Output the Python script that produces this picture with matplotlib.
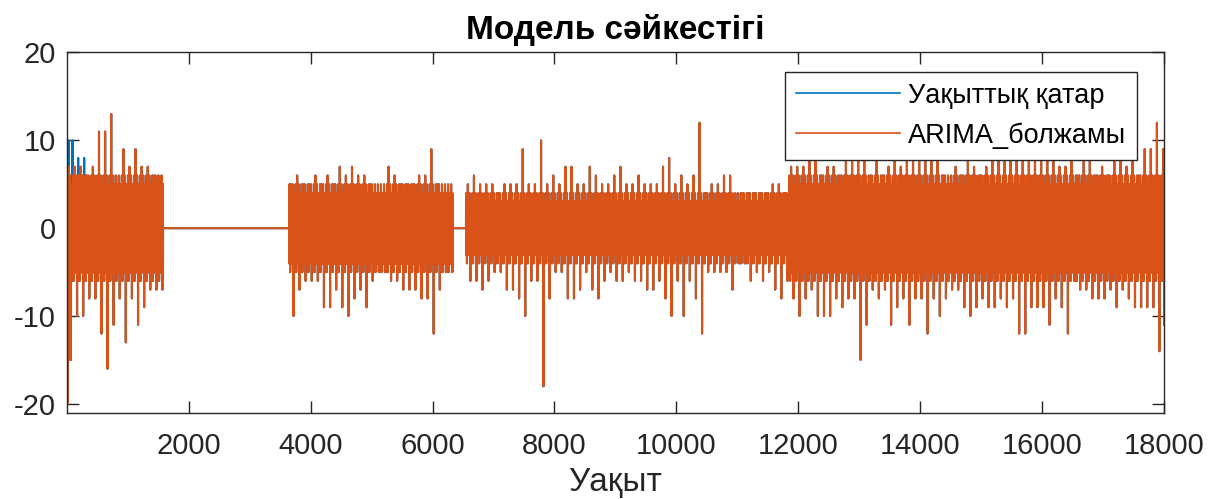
import numpy as np
import matplotlib
matplotlib.use("Agg")
import matplotlib.pyplot as plt

plt.rcParams['font.family'] = ['Liberation Sans', 'DejaVu Sans']
plt.rcParams['axes.unicode_minus'] = False

# segments of the record: start, end, solid band level, level most samples reach
seg_start = [1, 3650, 6550, 11850]
seg_end = [1580, 6325, 11850, 18000]
seg_core = [5, 4, 3, 5]
seg_edge = [6, 5, 4, 6]

# per 100-sample bin: largest and smallest value in each segment
seg1_hi = [7, 7, 7, 6, 7, 11, 11, 13, 5, 9, 7, 9, 7, 7, 6, 4]
seg1_lo = [-15, -10, -10, -8, -8, -12, -16, -11, -8, -13, -8, -11, -9, -7, -7, -7]

seg2_hi = [5, 6, 5, 5, 6, 5, 6, 5, 7, 6, 7, 6, 6, 5, 4, 4, 7, 6, 5, 5, 5, 6, 6, 9, 5, 4, 4]
seg2_lo = [-10, -7, -6, -6, -6, -9, -9, -7, -9, -10, -8, -7, -9, -6, -5, -5, -6, -6, -7, -7,
           -7, -8, -8, -12, -7, -5, -5]

seg3_hi = [5, 6, 5, 5, 5, 4, 5, 5, 5, 9, 5, 5, 10, 5, 6, 5, 7, 7, 5, 5,
           7, 6, 5, 5, 6, 7, 5, 5, 6, 5, 5, 5, 7, 8, 5, 6, 5, 6, 12, 4,
           5, 5, 6, 6, 3, 4, 4, 4, 4, 4, 5, 5, 4]
seg3_lo = [-6, -6, -7, -6, -5, -5, -7, -7, -8, -10, -6, -6, -18, -8, -5, -5, -8, -8, -7, -5,
           -7, -8, -6, -5, -6, -6, -5, -6, -6, -7, -7, -6, -8, -10, -6, -10, -6, -8, -12, -5,
           -5, -5, -5, -7, -4, -4, -6, -5, -6, -5, -7, -8, -6]

seg4_hi = [7, 7, 7, 8, 8, 6, 7, 7, 6, 9, 9, 9, 9, 6, 9, 6, 7, 8, 7, 8,
           8, 9, 9, 8, 10, 6, 5, 7, 6, 9, 7, 6, 7, 9, 8, 9, 9, 9, 9, 9,
           9, 9, 9, 9, 7, 7, 8, 6, 8, 8, 6, 7, 6, 8, 9, 7, 8, 6, 9, 9,
           12, 9]
seg4_lo = [-8, -10, -8, -7, -10, -10, -10, -8, -9, -8, -8, -15, -11, -7, -8, -7, -11, -9, -8, -11,
           -8, -8, -12, -8, -10, -8, -7, -7, -9, -10, -9, -8, -9, -9, -8, -9, -8, -12, -12, -9,
           -9, -9, -11, -8, -9, -12, -6, -7, -7, -8, -8, -8, -7, -9, -7, -8, -9, -9, -9, -9,
           -14, -11]

# first samples, before the model settles: index, observed, fitted
head_idx = [1, 2, 20, 37, 48, 97, 190, 288]
head_ts = [6, -4, -3, 10, 2, 10, 8, 8]
head_arima = [3, -21, -20, 4, -15, 5, 6, 6]

seg_hi = [seg1_hi, seg2_hi, seg3_hi, seg4_hi]
seg_lo = [seg1_lo, seg2_lo, seg3_lo, seg4_lo]

t = np.arange(1, 18001)
ts = np.zeros(len(t))
for s0, s1, c, e, hi, lo in zip(seg_start, seg_end, seg_core, seg_edge, seg_hi, seg_lo):
    n = s1 - s0 + 1
    part = np.where(np.arange(n) % 2 == 0, c, -c).astype(float)
    for b in range(len(hi)):
        k = b * 100
        for off, v in ((5, e), (55, e), (15, -e), (90, -e), (30, hi[b]), (70, lo[b])):
            part[min(k + off, n - 1)] = v
    ts[s0 - 1:s1] = part

arima = ts.copy()
for i, a, b in zip(head_idx, head_ts, head_arima):
    ts[i - 1] = a
    arima[i - 1] = b

fig = plt.figure(figsize=(12.08, 4.99), dpi=100)
ax = fig.add_axes([0.0552, 0.173, 0.9086, 0.7218])
ax.plot(t, ts, color='#0072BD', lw=1.5, label='Уақыттық қатар')
ax.plot(t, arima, color='#D95319', lw=1.5, label='ARIMA_болжамы')

ax.set_xlim(1, 18000)
ax.set_ylim(-21, 20)
ax.set_xticks(np.arange(2000, 18001, 2000))
ax.set_yticks([-20, -10, 0, 10, 20])
ax.tick_params(direction='in', top=True, right=True, length=8.5, width=1.0,
               labelsize=21, colors='#262626')
ax.tick_params(axis='x', pad=14)
ax.tick_params(axis='y', pad=8)
for sp in ax.spines.values():
    sp.set_color('#262626')
    sp.set_linewidth(1.0)

ax.set_title('Модель сәйкестігі', fontsize=24, fontweight='bold', pad=10)
ax.set_xlabel('Уақыт', fontsize=24, color='#262626', labelpad=5)

leg = ax.legend(loc='upper right', bbox_to_anchor=(0.9751, 0.9459), borderaxespad=0,
                fontsize=19.5, frameon=True, fancybox=False, handlelength=3.85,
                handletextpad=0.3, framealpha=1, edgecolor='#262626')
leg.get_frame().set_linewidth(1.0)
for ln in leg.get_lines():
    ln.set_linewidth(1.2)

fig.savefig('out.png', dpi=100)
